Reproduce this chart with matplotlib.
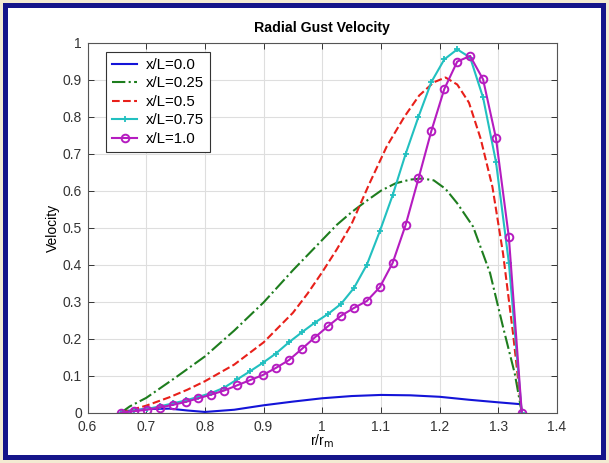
import matplotlib
matplotlib.use("Agg")
import matplotlib.pyplot as plt
from matplotlib.patches import Rectangle

plt.rcParams["font.family"] = ["Liberation Sans", "DejaVu Sans"]

# shared x grid for the two marked series
x_marked = [0.657, 0.679, 0.701, 0.723, 0.745, 0.767, 0.789, 0.811, 0.833, 0.855,
            0.877, 0.899, 0.921, 0.943, 0.965, 0.987, 1.010, 1.032, 1.054, 1.076,
            1.098, 1.120, 1.142, 1.164, 1.186, 1.208, 1.230, 1.252, 1.274, 1.296,
            1.318, 1.340]
v_075 = [0.000, 0.005, 0.010, 0.017, 0.025, 0.033, 0.043, 0.053, 0.068, 0.090,
         0.112, 0.135, 0.160, 0.190, 0.217, 0.243, 0.267, 0.294, 0.337, 0.400,
         0.490, 0.588, 0.699, 0.800, 0.894, 0.955, 0.982, 0.960, 0.852, 0.678,
         0.405, 0.000]
v_100 = [0.000, 0.004, 0.008, 0.014, 0.021, 0.029, 0.039, 0.049, 0.060, 0.074,
         0.088, 0.102, 0.121, 0.142, 0.172, 0.203, 0.234, 0.262, 0.283, 0.302,
         0.339, 0.405, 0.507, 0.633, 0.762, 0.875, 0.949, 0.964, 0.901, 0.742,
         0.474, 0.000]

x_000 = [0.657, 0.70, 0.74, 0.77, 0.80, 0.85, 0.90, 0.95, 1.00, 1.05, 1.10, 1.15,
         1.20, 1.25, 1.30, 1.338, 1.34]
v_000 = [0.003, 0.010, 0.011, 0.006, 0.002, 0.008, 0.020, 0.030, 0.039, 0.045,
         0.048, 0.047, 0.043, 0.035, 0.028, 0.023, 0.000]

x_025 = [0.657, 0.672, 0.70, 0.75, 0.80, 0.85, 0.90, 0.95, 1.00, 1.025, 1.05,
         1.075, 1.10, 1.125, 1.15, 1.17, 1.19, 1.21, 1.23, 1.257, 1.286, 1.308,
         1.328, 1.34]
v_025 = [0.000, 0.017, 0.040, 0.095, 0.152, 0.222, 0.298, 0.385, 0.467, 0.508,
         0.542, 0.572, 0.600, 0.620, 0.630, 0.633, 0.628, 0.605, 0.566, 0.503,
         0.377, 0.232, 0.106, 0.000]

x_050 = [0.657, 0.684, 0.70, 0.74, 0.77, 0.80, 0.85, 0.90, 0.95, 0.975, 1.00,
         1.025, 1.05, 1.08, 1.11, 1.14, 1.165, 1.19, 1.21, 1.23, 1.25, 1.27, 1.29,
         1.308, 1.325, 1.34]
v_050 = [0.000, 0.012, 0.019, 0.042, 0.062, 0.085, 0.130, 0.190, 0.270, 0.322,
         0.380, 0.442, 0.510, 0.618, 0.720, 0.800, 0.857, 0.893, 0.906, 0.887,
         0.838, 0.740, 0.610, 0.431, 0.215, 0.000]

labels = ["x/L=0.0", "x/L=0.25", "x/L=0.5", "x/L=0.75", "x/L=1.0"]
x_ticks = [0.6, 0.7, 0.8, 0.9, 1.0, 1.1, 1.2, 1.3, 1.4]
x_ticklabels = ["0.6", "0.7", "0.8", "0.9", "1", "1.1", "1.2", "1.3", "1.4"]
y_ticks = [0, 0.1, 0.2, 0.3, 0.4, 0.5, 0.6, 0.7, 0.8, 0.9, 1.0]
y_ticklabels = ["0", "0.1", "0.2", "0.3", "0.4", "0.5", "0.6", "0.7", "0.8", "0.9", "1"]

W, H = 609, 463
fig = plt.figure(figsize=(W / 100, H / 100), dpi=100)
fig.patch.set_facecolor("#f3ebd2")
# navy frame and white inner panel
fig.add_artist(Rectangle((3 / W, 3 / H), 1 - 6 / W, 1 - 6 / H, transform=fig.transFigure,
                         facecolor="#15158a", edgecolor="none", zorder=-3))
fig.add_artist(Rectangle((8 / W, 8 / H), 1 - 16 / W, 1 - 16 / H, transform=fig.transFigure,
                         facecolor="white", edgecolor="none", zorder=-2))

ax = fig.add_axes([87.5 / W, 1 - 412.7 / H, 469.5 / W, 370 / H])
ax.set_facecolor("white")

ax.plot(x_000, v_000, color="#1414d8", linestyle="-", linewidth=1.5, label=labels[0])
ax.plot(x_025, v_025, color="#1e7d1e", linestyle="-.", linewidth=1.5, label=labels[1])
ax.plot(x_050, v_050, color="#e8201a", linestyle="--", linewidth=1.5, label=labels[2])
ax.plot(x_marked, v_075, color="#22c0c0", linestyle="-", linewidth=1.5,
        marker="+", markersize=5, markeredgewidth=1.3, label=labels[3])
ax.plot(x_marked, v_100, color="#b51cc0", linestyle="-", linewidth=1.5,
        marker="o", markersize=5.5, markerfacecolor="none", markeredgewidth=1.4,
        label=labels[4])

ax.set_xlim(0.6, 1.4)
ax.set_ylim(0, 1)
ax.set_xticks(x_ticks)
ax.set_xticklabels(x_ticklabels)
ax.set_yticks(y_ticks)
ax.set_yticklabels(y_ticklabels)
ax.tick_params(direction="in", length=4, width=0.7, top=True, right=True,
               labelsize=10, colors="#333333", pad=4)
ax.tick_params(axis="x", pad=5)
ax.grid(True, color="#dedede", linewidth=0.8)
ax.set_axisbelow(True)
for s in ax.spines.values():
    s.set_color("#555555")
    s.set_linewidth(0.8)

ax.set_title("Radial Gust Velocity", fontsize=10.2, fontweight="bold", pad=8)
ax.set_xlabel("r/r$_\\mathrm{m}$", fontsize=10, labelpad=-1)
ax.set_ylabel("Velocity", fontsize=10, labelpad=2)

leg = ax.legend(loc="upper left", bbox_to_anchor=(0.039, 0.975), borderaxespad=0,
                fontsize=10.8, handlelength=1.7, handletextpad=0.6, labelspacing=0.3,
                borderpad=0.4, fancybox=False, framealpha=1)
leg.get_frame().set_edgecolor("#333333")
leg.get_frame().set_linewidth(0.8)

fig.savefig("out.png", dpi=100)
